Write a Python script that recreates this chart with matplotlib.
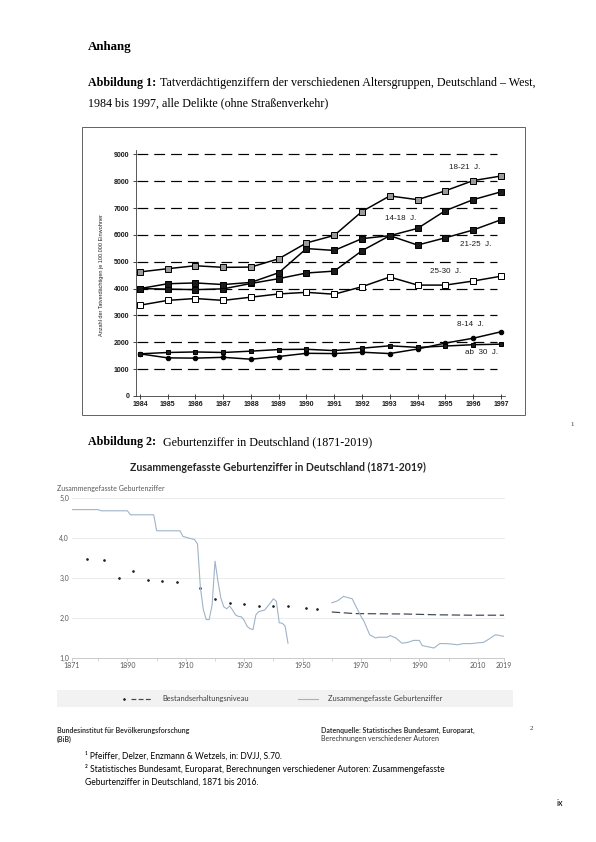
import matplotlib
matplotlib.use("Agg")
import matplotlib.pyplot as plt
from matplotlib.patches import Rectangle
from matplotlib.lines import Line2D

# --- Abbildung 1: Tatverdächtigenziffern (je 100.000 Einwohner) ---
years1 = list(range(1984, 1998))
tvz_18_21 = [4620, 4740, 4850, 4790, 4800, 5110, 5700, 5980, 6870, 7450, 7310, 7640, 8020, 8190]
tvz_14_18 = [4000, 3980, 3960, 3990, 4190, 4370, 4580, 4650, 5410, 5970, 6240, 6900, 7310, 7600]
tvz_21_25 = [4000, 4180, 4210, 4150, 4230, 4590, 5490, 5420, 5860, 5970, 5620, 5890, 6180, 6560]
tvz_25_30 = [3380, 3560, 3630, 3560, 3680, 3800, 3860, 3790, 4070, 4430, 4130, 4130, 4280, 4460]
tvz_8_14 = [1570, 1420, 1410, 1440, 1370, 1470, 1590, 1580, 1630, 1580, 1750, 1970, 2150, 2390]
tvz_ab30 = [1570, 1620, 1640, 1620, 1670, 1730, 1740, 1690, 1780, 1870, 1810, 1860, 1910, 1930]
label_names = ["18-21 J.", "14-18 J.", "21-25 J.", "25-30 J.", "8-14 J.", "ab 30 J."]
label_x = [1995.7, 1993.4, 1996.1, 1995.0, 1995.9, 1996.3]
label_y = [8500, 6620, 5650, 4630, 2680, 1610]

# --- Abbildung 2: Zusammengefasste Geburtenziffer ---
tfr_years_a = [1871, 1880, 1881, 1890, 1891, 1899, 1900, 1908, 1909, 1911, 1913, 1914,
               1915, 1916, 1917, 1918, 1919, 1920, 1921, 1922, 1923, 1924, 1925, 1926,
               1927, 1928, 1929, 1930, 1931, 1932, 1933, 1934, 1935, 1937, 1939, 1940,
               1941, 1942, 1943, 1944, 1945]
tfr_vals_a = [4.71, 4.71, 4.68, 4.68, 4.58, 4.58, 4.18, 4.18, 4.04, 4.00, 3.96, 3.85,
              2.75, 2.21, 1.96, 1.96, 2.33, 3.42, 2.92, 2.50, 2.28, 2.23, 2.30, 2.20,
              2.08, 2.04, 2.03, 1.94, 1.79, 1.73, 1.71, 2.08, 2.16, 2.20, 2.38, 2.48,
              2.42, 1.88, 1.87, 1.80, 1.37]
tfr_years_b = [1960, 1962, 1964, 1967, 1968, 1970, 1971, 1973, 1975, 1976, 1979, 1980,
               1982, 1984, 1986, 1988, 1990, 1991, 1993, 1995, 1997, 1999, 2001, 2003,
               2005, 2008, 2010, 2012, 2014, 2016, 2017, 2019]
tfr_vals_b = [2.38, 2.43, 2.54, 2.48, 2.33, 2.04, 1.92, 1.58, 1.50, 1.52, 1.52, 1.56,
              1.50, 1.37, 1.39, 1.44, 1.44, 1.31, 1.28, 1.25, 1.36, 1.36, 1.35, 1.33,
              1.36, 1.36, 1.38, 1.39, 1.48, 1.58, 1.57, 1.54]
level_dot_years = [1876, 1882, 1887, 1892, 1897, 1902, 1907, 1915, 1920, 1925, 1930,
                   1935, 1940, 1945, 1951, 1955]
level_dot_vals = [3.48, 3.44, 3.00, 3.17, 2.94, 2.92, 2.91, 2.75, 2.48, 2.38, 2.34,
                  2.31, 2.30, 2.29, 2.25, 2.22]
level_line_years = [1960, 1968, 1985, 1996, 2008, 2019]
level_line_vals = [2.15, 2.11, 2.10, 2.08, 2.07, 2.07]
x_ticks2 = [1871, 1890, 1910, 1930, 1950, 1970, 1990, 2010, 2019]

W, H = 596, 842


def fx(x):
    return x / W


def fy(y):
    return 1 - y / H


def box(x0, y0, x1, y1):
    return [fx(x0), fy(y1), (x1 - x0) / W, (y1 - y0) / H]


fig = plt.figure(figsize=(W / 72, H / 72), dpi=72)
fig.patch.set_facecolor("white")

serif = ["Liberation Serif", "DejaVu Serif"]
sans = ["Lato", "DejaVu Sans"]
arial = ["Liberation Sans", "DejaVu Sans"]

# ---------------- chart 1 ----------------
fig.add_artist(Rectangle((fx(82), fy(415)), (525 - 82) / W, (415 - 127) / H,
                         transform=fig.transFigure, fill=False, ec="#666666", lw=1))
ax1 = fig.add_axes(box(136, 150, 505, 396))
ax1.set_xlim(1983.86, 1997.15)
ax1.set_ylim(0, 9160)
ax1.hlines(range(1000, 10000, 1000), 1983.9, 1996.85, colors="black",
           linestyles=(0, (9, 5)), lw=1.2, zorder=1)

lw = 1.5
ax1.plot(years1, tvz_18_21, "-s", color="black", mfc="#9a9a9a", mec="black", ms=5.5, lw=lw, zorder=3)
ax1.plot(years1, tvz_14_18, "-s", color="black", mfc="#1a1a1a", mec="black", ms=5.5, lw=lw, zorder=3)
ax1.plot(years1, tvz_21_25, "-s", color="black", mfc="#1a1a1a", mec="black", ms=5.5, lw=lw, zorder=3)
ax1.plot(years1, tvz_25_30, "-s", color="black", mfc="white", mec="black", ms=5.5, lw=lw, zorder=3)
ax1.plot(years1, tvz_8_14, "-o", color="black", mfc="black", ms=4.5, lw=lw, zorder=3)
ax1.plot(years1, tvz_ab30, "-s", color="black", mfc="#1a1a1a", ms=4.5, lw=lw, zorder=3)

for name, lx, ly in zip(label_names, label_x, label_y):
    ax1.text(lx, ly, "  ".join(name.split(" ")), family=arial,
             fontsize=8, ha="center", va="center", color="#1a1a1a")

for s in ["top", "right"]:
    ax1.spines[s].set_visible(False)
ax1.spines["left"].set_color("#333333")
ax1.spines["bottom"].set_color("#333333")
ax1.set_xticks(years1)
ax1.set_xticklabels([str(y) for y in years1])
ax1.set_yticks(range(0, 10000, 1000))
ax1.tick_params(axis="both", labelsize=7, colors="#1a1a1a", length=3)
ax1.tick_params(axis="x", direction="inout", length=5, pad=3)
for lab in ax1.get_xticklabels() + ax1.get_yticklabels():
    lab.set_family(arial)
    lab.set_weight("bold")
fig.text(fx(102), fy(275), "Anzahl der Tatverdächtigen je 100.000 Einwohner",
         family=arial, fontsize=5.5, rotation=90,
         ha="center", va="center", color="#222222")
fig.text(fx(570), fy(425), "1", family=serif, fontsize=7, va="center", color="#333333")

# page text
fig.text(fx(88), fy(47), "Anhang", family=serif, fontsize=13, weight="bold", va="center")
t1 = fig.text(fx(88), fy(83), "Abbildung 1:", family=serif, fontsize=12, weight="bold",
              va="center")
ax1.annotate("Tatverdächtigenziffern der verschiedenen Altersgruppen, Deutschland – West,",
             xy=(1, 0), xycoords=t1, xytext=(4, 0), textcoords="offset points",
             family=serif, fontsize=12, va="bottom", annotation_clip=False)
fig.text(fx(88), fy(103), "1984 bis 1997, alle Delikte (ohne Straßenverkehr)",
         family=serif, fontsize=12, va="center")

# ---------------- chart 2 ----------------
fig.text(fx(88), fy(442), "Abbildung 2:", family=serif, fontsize=12, weight="bold", va="center")
fig.text(fx(163), fy(442), "Geburtenziffer in Deutschland (1871-2019)", family=serif,
         fontsize=12, va="center")
fig.text(fx(278), fy(467), "Zusammengefasste Geburtenziffer in Deutschland (1871-2019)",
         family=sans, fontsize=10.5, weight="bold", ha="center", va="center", color="#262626")
fig.text(fx(57), fy(488), "Zusammengefasste Geburtenziffer", family=sans, fontsize=7,
         va="center", color="#595959")

ax2 = fig.add_axes(box(72, 498, 504, 658))
ax2.set_xlim(1871, 2019)
ax2.set_ylim(1, 5)
for v in [2, 3, 4, 5]:
    ax2.axhline(v, color="#e6e6e6", lw=0.8, zorder=0, clip_on=False)
ax2.plot(tfr_years_a, tfr_vals_a, color="#9fb3c8", lw=1.1, zorder=3)
ax2.plot(tfr_years_b, tfr_vals_b, color="#9fb3c8", lw=1.1, zorder=3)
ax2.plot(level_line_years, level_line_vals, color="#3d4656", lw=1.2,
         linestyle=(0, (7, 3)), zorder=2)
ax2.plot(level_dot_years, level_dot_vals, "o", color="#222222", ms=1.6, zorder=2)

for s in ["top", "right", "left"]:
    ax2.spines[s].set_visible(False)
ax2.spines["bottom"].set_color("#bfbfbf")
ax2.set_yticks([1, 2, 3, 4, 5])
ax2.set_yticklabels(["1,0", "2,0", "3,0", "4,0", "5,0"])
ax2.set_xticks(x_ticks2)
ax2.set_xticks([1880, 1900, 1920, 1940, 1960, 1980, 2000], minor=True)
ax2.tick_params(axis="y", length=0, pad=3, labelsize=7, labelcolor="#595959")
ax2.tick_params(axis="x", which="both", length=3, color="#bfbfbf", labelsize=7,
                labelcolor="#595959", pad=1)
for lab in ax2.get_xticklabels() + ax2.get_yticklabels():
    lab.set_family(sans)

# legend band
fig.add_artist(Rectangle((fx(57), fy(707)), (513 - 57) / W, 17 / H,
                         transform=fig.transFigure, fc="#f2f2f2", ec="none"))
fig.add_artist(Line2D([fx(124)], [fy(699)], marker="o", ms=1.6, color="#222222",
                      transform=fig.transFigure))
fig.add_artist(Line2D([fx(131), fx(152)], [fy(699), fy(699)], color="#3d4656", lw=1.2,
                      linestyle=(0, (4, 2)), transform=fig.transFigure))
fig.text(fx(162), fy(699), "Bestandserhaltungsniveau", family=sans, fontsize=7.5,
         va="center", color="#404040")
fig.add_artist(Line2D([fx(298), fx(318)], [fy(699), fy(699)], color="#9fb3c8", lw=1.1,
                      transform=fig.transFigure))
fig.text(fx(328), fy(699), "Zusammengefasste Geburtenziffer", family=sans, fontsize=7.5,
         va="center", color="#404040")

# source lines
fig.text(fx(57), fy(730), "Bundesinstitut für Bevölkerungsforschung", family=sans,
         fontsize=7, weight="bold", va="center", color="#333333")
fig.text(fx(57), fy(739), "(BiB)", family=sans, fontsize=7, weight="bold", va="center",
         color="#333333")
fig.text(fx(321), fy(730), "Datenquelle: Statistisches Bundesamt, Europarat,", family=sans,
         fontsize=7, weight="bold", va="center", color="#333333")
fig.text(fx(321), fy(739), "Berechnungen verschiedener Autoren", family=sans, fontsize=7,
         va="center", color="#333333")
fig.text(fx(530), fy(728), "2", family=serif, fontsize=7, va="center", color="#333333")

# footnotes
fig.text(fx(85), fy(756), "¹ Pfeiffer, Delzer, Enzmann & Wetzels, in: DVJJ, S.70.",
         family=sans, fontsize=8.5, va="center")
fig.text(fx(85), fy(769), "² Statistisches Bundesamt, Europarat, Berechnungen verschiedener "
         "Autoren: Zusammengefasste", family=sans, fontsize=8.5, va="center")
fig.text(fx(85), fy(782), "Geburtenziffer in Deutschland, 1871 bis 2016.", family=sans,
         fontsize=8.5, va="center")
fig.text(fx(556), fy(804), "ix", family=sans, fontsize=9, va="center")

fig.savefig("out.png", dpi=72)
